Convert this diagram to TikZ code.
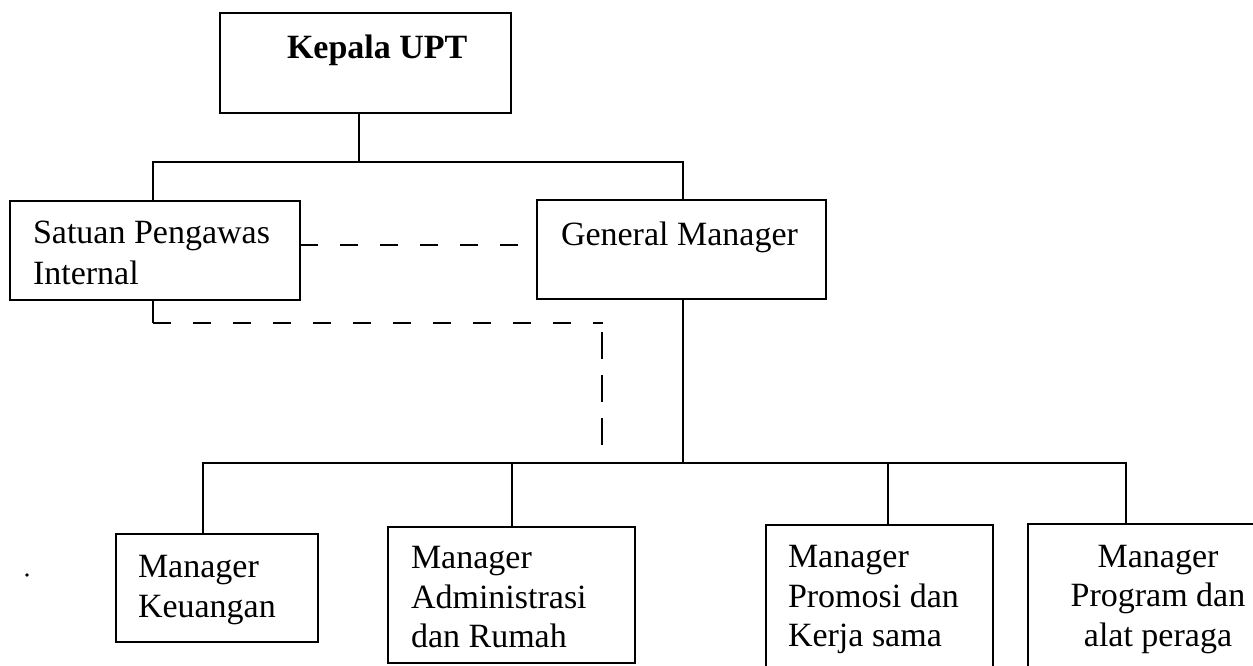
\documentclass[tikz,border=0pt]{standalone}
\usepackage{fontspec}
\setmainfont{Liberation Serif}
\tikzset{
  box/.style={draw, line width=2.2pt, inner sep=0pt, outer sep=0pt},
  txt/.style={inner sep=0pt, outer sep=0pt, font=\fontsize{34}{39.5}\selectfont, align=left, anchor=base west},
  link/.style={line width=2.2pt},
  dashlink/.style={line width=2.2pt, dash pattern=on 18pt off 22pt},
  vdashlink/.style={line width=2.2pt, dash pattern=on 27pt off 16pt},
}
\begin{document}
\begin{tikzpicture}[x=1pt,y=-1pt]
\useasboundingbox (0,0) rectangle (1253,666);
\clip (0,0) rectangle (1253,666);
\fill[white] (0,0) rectangle (1253,666);

% boxes
\node[box, minimum width=291pt, minimum height=100pt] (kepala) at (365.5,63) {};
\node[box, minimum width=290pt, minimum height=99pt] (satuan) at (155,250.5) {};
\node[box, minimum width=289pt, minimum height=99pt] (gm) at (681.5,249.5) {};
\node[box, minimum width=202pt, minimum height=108pt] (mk) at (217,588) {};
\node[box, minimum width=247pt, minimum height=136pt] (ma) at (511.5,595) {};
\node[box, minimum width=227pt, minimum height=160pt] (mp) at (879.5,605) {};
\node[box, minimum width=264pt, minimum height=160pt] (mg) at (1160,604) {};

% texts (base anchor = baseline of the last line)
\node[txt, font=\fontsize{34}{39.5}\selectfont\bfseries] (tkepala) at (287,59) {Kepala UPT};
\node[txt] (tsatuan) at (33,284) {Satuan Pengawas\\[1.5pt]Internal};
\node[txt] (tgm) at (561,245) {General Manager};
\node[txt] (tmk) at (138,617) {Manager\\Keuangan};
\node[txt] (tma) at (411,647.5) {Manager\\Administrasi\\dan Rumah};
\node[txt] (tmp) at (788,646.5) {Manager\\Promosi dan\\Kerja sama};
\node[txt, align=center, anchor=base] (tmg) at (1158,646) {Manager\\Program dan\\alat peraga};

% stray dot
\fill (27,575) circle (1.8pt);

% junction coordinates
\coordinate (j1) at (359,162);
\coordinate (t1) at (153,162);
\coordinate (t2) at (683,162);
\coordinate (d0) at (0,245);
\coordinate (s1) at (153,323);
\coordinate (s2) at (603,323);
\coordinate (v1) at (602,332);
\coordinate (v2) at (602,445);
\coordinate (b0) at (683,463);
\coordinate (b1) at (203,463);
\coordinate (b2) at (512,463);
\coordinate (b3) at (888,463);
\coordinate (b4) at (1126,463);

% solid connectors
\draw[link] (kepala.south -| j1) -- (j1);
\draw[link] (satuan.north -| t1) -- (t1) -- (t2) -- (gm.north -| t2);
\draw[link] (gm.south -| b0) -- (b0);
\draw[link] (b1 |- mk.north) -- (b1) -- (b4) -- (b4 |- mg.north);
\draw[link] (b2) -- (b2 |- ma.north);
\draw[link] (b3) -- (b3 |- mp.north);

% dashed connectors
\draw[dashlink] (satuan.east |- d0) -- (gm.west |- d0);
\draw[link] (satuan.south -| s1) -- (s1);
\draw[dashlink] (s1) -- (s2);
\draw[vdashlink] (v1) -- (v2);
\end{tikzpicture}
\end{document}
